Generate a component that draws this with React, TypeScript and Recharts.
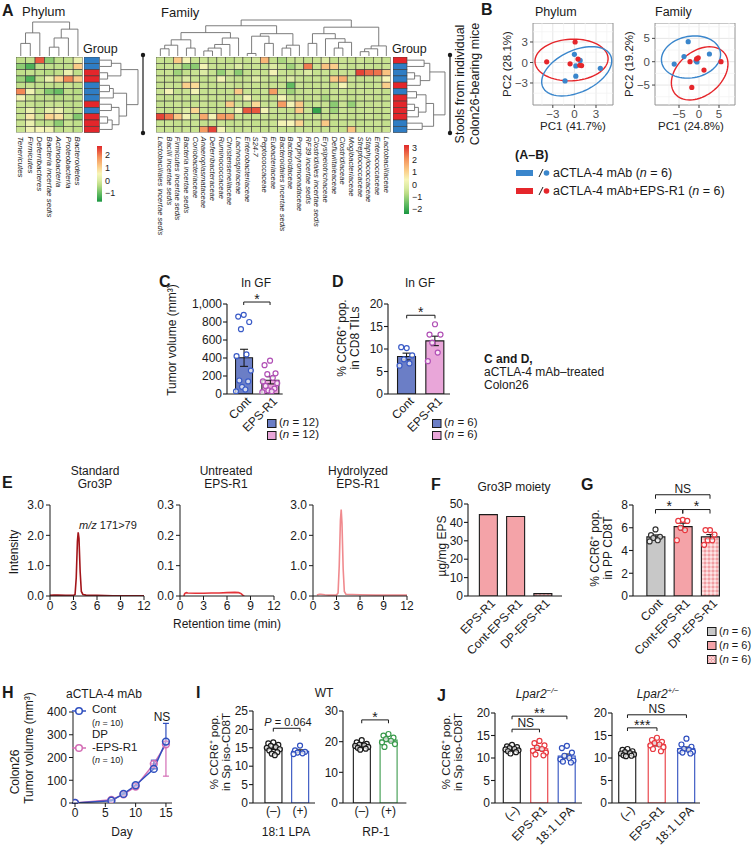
import React from "react"
import {
  ScatterChart,
  Scatter,
  XAxis,
  YAxis,
  CartesianGrid,
  ReferenceLine,
  ReferenceArea,
  ReferenceDot,
  ComposedChart,
  Bar,
  Cell,
  ErrorBar,
  LineChart,
  Line,
} from "recharts"

const FONT = '"Liberation Sans", Arial, Helvetica, sans-serif'
const INK = "#1a1a1a"
const BLUE = "#3a86cc"
const RED = "#e5262b"

// ---------- A: heatmaps ----------
const phylumNames = [
  "Tenericutes", "Firmicutes", "Deferribacteres", "Bacteria incertae sedis",
  "Actinobacteria", "Proteobacteria", "Bacteroidetes",
]
const phylumGroups = ["b", "b", "r", "r", "b", "b", "b", "r", "b", "r", "r", "r"]
const phylumValues = [
  [-0.3, -0.25, 2.3, -0.7, -0.3, -0.25, 0.3],
  [-0.7, -1.2, -0.3, -0.3, -0.3, -0.3, 1.1],
  [-0.3, -0.25, -0.3, -0.4, -0.3, 0.3, -0.3],
  [-0.6, -1.2, -0.3, 0.3, 1.0, 1.9, 1.1],
  [-0.3, -0.25, -0.3, -0.3, -0.3, -0.2, -0.3],
  [1.9, 0.4, -0.3, -0.8, -1.0, -0.3, -0.4],
  [0.4, -0.2, -0.3, -0.3, -0.4, -0.3, -0.3],
  [-0.2, -0.2, -0.3, -0.2, -0.2, -0.3, -0.3],
  [-0.2, 0.3, -0.3, 0.2, 0.3, -0.2, -0.3],
  [-0.2, 0.7, -0.2, 1.0, 0.8, -0.2, -0.8],
  [-0.2, 0.3, -0.3, -0.3, -0.7, -0.2, -0.3],
  [-0.2, 0.4, 0.5, 0.4, -0.3, -0.2, -0.3],
]
const phylumRange = [-1.66, 2.7]
const phylumColMerges = [[0, 1, 0.37], [7, 2, 0.68], [3, 4, 0.26], [9, 5, 0.53], [10, 6, 0.79], [8, 11, 1.0]]
const phylumRowMerges = [
  [0, 1, 0.3], [2, 3, 0.2], [12, 13, 0.55], [4, 5, 0.25], [15, 6, 0.35], [7, 8, 0.3],
  [9, 10, 0.2], [18, 11, 0.32], [17, 19, 0.5], [16, 20, 0.7], [14, 21, 1.0],
]

const familyNames = [
  "Lactobacillales incertae sedis", "Bacilli incertae sedis", "Firmicutes incertae sedis",
  "Bacteria incertae sedis", "Coriobacteriaceae", "Anaeroplasmataceae", "Deferribacteraceae",
  "Ruminococcaceae", "Christensenellaceae", "Lachnospiraceae", "Enterobacteriaceae", "S24-7",
  "Peptococcaceae", "Eubacteriaceae", "Bacteroidales incertae sedis", "Bacteroidaceae",
  "Porphyromonadaceae", "RF39 incertae sedis", "Clostridiales incertae sedis",
  "Erysipelotrichaceae", "Defluviitaleaceae", "Clostridiaceae", "Mogibacteriaceae",
  "Streptococcaceae", "Staphylococcaceae", "Enterococcaceae", "Lactobacillaceae",
]
const familyGroups = ["r", "b", "b", "b", "r", "b", "r", "r", "r", "r", "b", "b"]
const familyValues = [
  [-0.5, -0.6, 1.2, 0.3, -0.55, -0.45, -0.6, -0.5, -0.65, -0.5, -0.55, -0.4, 1.5, -0.6, -0.9, -0.55, -0.5, -0.6, -0.5, -0.2, -0.6, -0.5, -0.55, -0.45, -0.6, -0.5, -0.55],
  [-0.6, -0.5, -0.55, -1.1, -1.2, 0.3, -0.5, -0.6, -0.5, -0.2, -0.55, -0.5, -0.6, -0.2, -0.5, -1.0, -0.55, 2.3, -0.5, 1.3, 1.1, -0.45, -0.6, -0.5, -0.55, -0.6, -0.5],
  [-0.55, -0.5, -1.0, -0.6, -0.5, -0.2, -0.55, -1.1, -0.5, -1.2, -0.6, -0.5, -0.55, 0.3, -0.5, -0.6, -0.5, -0.2, -0.55, -0.5, -0.6, -0.5, -0.55, 2.9, 2.5, 2.4, 1.3],
  [-0.5, -0.55, -0.6, -0.2, -0.5, -0.6, -0.55, 0.3, -0.5, -0.6, -0.55, -0.2, -0.5, -0.6, -0.55, -0.2, -0.5, -0.6, -0.5, -0.55, 1.2, 1.6, -0.5, -0.6, -0.55, -0.5, 0.4],
  [-0.6, -0.5, -0.55, 1.1, 0.9, -0.5, -0.6, -0.55, -0.5, -0.6, -0.5, -0.55, -0.6, -0.5, -0.55, -1.6, -0.5, -0.6, -0.55, -0.5, -0.6, 0.3, -0.55, -0.5, -0.6, -0.5, 1.1],
  [-0.5, 0.3, -0.6, -0.5, 0.3, -0.55, -0.5, -0.6, -0.55, 1.2, -0.5, -0.6, -0.5, 1.9, -0.55, -1.0, -0.6, -0.5, -0.55, -0.6, -0.5, -0.55, -0.6, -0.5, -0.55, -0.5, -0.6],
  [-0.55, -0.6, -0.5, -0.55, -0.6, -0.5, -0.55, -0.5, -0.6, -0.55, 0.3, -0.5, -0.55, -0.6, 0.3, -0.5, -0.55, -0.6, -0.5, -0.9, -0.55, -0.5, -0.6, -0.55, -0.5, -0.6, -0.55],
  [-0.6, -0.55, -0.5, -0.6, -0.55, -0.5, -0.6, -0.55, 1.2, -0.5, -0.6, 0.9, -0.55, -0.5, 1.9, 0.3, 1.2, -0.6, -0.5, -0.55, -1.2, -0.5, -1.1, -0.55, -0.6, -0.5, -0.55],
  [-0.5, -0.6, -0.55, -0.2, 1.0, -0.5, -0.6, -0.55, -0.5, 0.3, 2.7, 2.7, 0.3, -0.5, -0.55, -0.6, 1.2, -0.5, -2.1, -0.55, -1.0, -0.5, -0.6, -0.55, -0.5, -0.6, -0.55],
  [2.9, 2.4, 1.2, 0.3, -0.5, 1.7, 0.3, 1.9, 1.8, -0.5, -0.6, -0.55, -0.5, -0.6, -0.55, -0.5, -0.6, -0.55, -0.5, -0.6, -0.55, -0.5, -0.6, -0.55, -0.5, -0.6, -0.55],
  [-0.55, -0.5, -0.6, -0.55, -0.5, -0.6, -0.55, -0.5, -0.6, -0.55, -0.5, -0.6, -0.55, -0.5, 0.3, 0.4, 1.0, -0.55, -0.5, 1.2, -0.6, -0.55, -0.5, -0.6, -0.55, -0.5, -0.6],
  [-0.5, -0.55, -0.6, -0.5, -0.55, 1.9, 2.9, 0.3, -0.55, -0.6, -0.5, -0.55, -0.6, -0.5, -0.55, -0.6, -0.5, -0.55, -0.6, -0.5, -0.55, -0.6, 1.3, -0.5, -0.55, -0.6, -0.5],
]
const familyRange = [-2.4, 3.2]
const familyColMerges = [
  [0, 1, 0.2], [27, 2, 0.3], [3, 4, 0.22], [28, 29, 0.45], [5, 6, 0.14], [31, 7, 0.22],
  [32, 8, 0.32], [33, 9, 0.5], [30, 34, 0.65], [10, 11, 0.07], [12, 13, 0.35], [36, 37, 0.55],
  [14, 15, 0.22], [39, 16, 0.3], [38, 40, 0.62], [35, 41, 0.84], [17, 18, 0.35], [20, 21, 0.22],
  [44, 22, 0.38], [19, 45, 0.48], [43, 46, 0.62], [23, 24, 0.12], [48, 25, 0.2], [49, 26, 0.28],
  [47, 50, 0.8], [42, 51, 1.0],
]
const familyRowMerges = [
  [0, 1, 0.45], [2, 3, 0.2], [13, 4, 0.35], [12, 14, 0.6], [5, 6, 0.25], [7, 8, 0.2],
  [17, 9, 0.3], [16, 18, 0.5], [10, 11, 0.4], [19, 20, 0.7], [15, 21, 1.0],
]

// ---------- B: PCA ----------
const pcaPhylumBlue = [[0.0, 1.2], [0.8, 0.3], [0.2, -0.5], [0.2, -2.0], [-1.3, -2.7], [3.6, -0.85]]
const pcaPhylumRed = [[0.1, 3.0], [-3.85, 0.1], [-0.6, -0.2], [0.5, 0.5], [0.75, -0.4], [1.0, -0.45]]
const pcaFamilyBlue = [[-2.7, 4.3], [-3.75, 1.1], [-6.2, -0.5], [-0.75, 0.2], [-0.5, -0.05], [2.6, 1.65]]
const pcaFamilyRed = [[-2.25, 0.0], [-0.6, 0.6], [-0.2, 0.85], [1.25, -1.8], [5.5, 0.0], [-1.8, -5.5]]
// ellipse: centre (data), half axes (px), tilt (deg)
const ellPhylumBlue = { cx: 0.32, cy: -1.29, a: 37.4, b: 20.9, deg: 25 }
const ellPhylumRed = { cx: -0.4, cy: 0.37, a: 36.6, b: 20.8, deg: 3 }
const ellFamilyBlue = { cx: -2.0, cy: 1.0, a: 29.8, b: 20.8, deg: 10 }
const ellFamilyRed = { cx: 0.17, cy: -2.5, a: 32, b: 22, deg: 40 }

// ---------- C, D ----------
const cdLabels = ["Cont", "EPS-R1"]
const cMeans = [402, 152]
const cSems = [95, 40]
const cPoints = [
  [880, 860, 800, 720, 440, 420, 260, 150, 140, 80, 50, 30],
  [370, 320, 230, 220, 180, 140, 120, 90, 60, 40, 30, 20],
]
const dMeans = [8.33, 11.8]
const dSems = [0.75, 1.05]
const dPoints = [
  [10.2, 10.4, 8.6, 7.7, 6.8, 6.3],
  [15.5, 13.2, 13.2, 11.4, 9.2, 7.3],
]

// ---------- E: chromatograms ----------
const stdT = [0, 0.5, 1, 2, 3, 3.2, 3.35, 3.5, 3.6, 3.7, 3.85, 4.0, 4.2, 4.6, 5, 6, 8, 10, 12]
const stdV = [0.02, 0.03, 0.03, 0.02, 0.02, 0.05, 0.6, 1.8, 2.1, 1.9, 0.8, 0.15, 0.05, 0.03, 0.02, 0.02, 0.01, 0.01, 0.01]
const untT = [0.5, 0.6, 0.8, 1, 2, 3, 4, 5, 6, 7, 7.5, 7.8, 8.0, 8.2]
const untV = [0.0, 0.008, 0.011, 0.01, 0.009, 0.009, 0.01, 0.01, 0.011, 0.012, 0.011, 0.008, 0.003, 0.0]
const hydT = [0.5, 0.8, 1, 1.5, 2, 3, 3.2, 3.35, 3.5, 3.6, 3.7, 3.85, 4.0, 4.2, 5, 6, 8, 10, 12]
const hydV = [0.03, 0.06, 0.06, 0.04, 0.03, 0.03, 0.1, 1.0, 2.5, 2.85, 2.4, 0.9, 0.15, 0.06, 0.05, 0.04, 0.03, 0.03, 0.03]

// ---------- F, G ----------
const fgLabels = ["EPS-R1", "Cont-EPS-R1", "DP-EPS-R1"]
const fValues = [44.2, 43.2, 1.3]
const gLabels = ["Cont", "Cont-EPS-R1", "DP-EPS-R1"]
const gMeans = [5.2, 6.1, 5.2]
const gSems = [0.17, 0.3, 0.2]
const gPoints = [
  [5.85, 5.35, 5.2, 5.1, 4.9, 4.8],
  [6.7, 6.6, 6.6, 6.0, 5.8, 4.9],
  [5.8, 5.8, 5.4, 4.9, 4.9, 4.5],
]

// ---------- H ----------
const hDays = [0, 6, 8, 10, 13, 15]
const hCont = [0, 10, 40, 78, 150, 270]
const hContSem = [0, 3, 5, 8, 38, 80]
const hDp = [0, 14, 38, 72, 172, 258]
const hDpSem = [0, 3, 5, 8, 20, 140]

// ---------- I, J ----------
const pmLabels = ["(\u2013)", "(+)"]
const iLpaMeans = [14.9, 14.05]
const iLpaSems = [0.35, 0.4]
const iLpaPoints = [
  [16.5, 16.2, 15.8, 15.5, 15.2, 15.0, 14.6, 14.3, 13.8, 13.4, 13.0],
  [15.6, 14.3, 13.9, 13.7, 13.5, 13.3],
]
const iRpMeans = [18.74, 20.5]
const iRpSems = [0.3, 0.45]
const iRpPoints = [
  [20.5, 19.8, 19.3, 19.0, 18.8, 18.6, 18.3, 18.0, 17.7, 17.4],
  [22.5, 22.0, 21.3, 20.8, 20.3, 19.8, 19.2, 18.3],
]
const jLabels = ["(\u2013)", "EPS-R1", "18:1 LPA"]
const jKoMeans = [11.85, 12.04, 10.43]
const jKoSems = [0.2, 0.35, 0.45]
const jKoPoints = [
  [12.9, 12.6, 12.4, 12.2, 12.0, 11.9, 11.7, 11.5, 11.3, 11.0],
  [13.8, 13.3, 12.8, 12.3, 12.0, 11.6, 11.2, 10.8, 10.6],
  [12.7, 12.2, 11.2, 10.5, 10.0, 9.7, 9.4, 9.2, 9.0],
]
const jHetMeans = [11.1, 13.01, 12.09]
const jHetSems = [0.18, 0.33, 0.35]
const jHetPoints = [
  [12.0, 11.8, 11.5, 11.3, 11.1, 11.0, 10.8, 10.6, 10.5, 10.4],
  [14.5, 14.0, 13.6, 13.3, 13.0, 12.8, 12.4, 12.0, 11.5],
  [14.3, 13.0, 12.5, 12.0, 11.8, 11.6, 11.4, 11.2, 11.0],
]

// ---------- helpers ----------
const heatStops: [number, string][] = [
  [0, "#1a9641"], [0.15, "#66bd63"], [0.3, "#bcdd86"], [0.38, "#d9eaa0"],
  [0.5, "#f7f5b8"], [0.62, "#fbd08c"], [0.8, "#f4915a"], [1, "#e0282a"],
]
function hex(c: string) {
  return [1, 3, 5].map((i) => parseInt(c.slice(i, i + 2), 16))
}
function heatColor(v: number, lo: number, hi: number) {
  const t = Math.max(0, Math.min(1, (v - lo) / (hi - lo)))
  let k = 0
  while (k < heatStops.length - 2 && t > heatStops[k + 1][0]) k++
  const [t0, c0] = heatStops[k]
  const [t1, c1] = heatStops[k + 1]
  const f = (t - t0) / (t1 - t0)
  const a = hex(c0), b = hex(c1)
  return `rgb(${a.map((x, i) => Math.round(x + (b[i] - x) * f)).join(",")})`
}
const minus = (v: number) => (v < 0 ? "\u2212" + Math.abs(v) : String(v))

function T({ x, y, s = 12, b = false, i = false, a = "start", r = 0, c = INK, children }: any) {
  const tx = a === "start" ? "0%" : a === "end" ? "-100%" : "-50%"
  return (
    <div
      style={{
        position: "absolute", left: x, top: y,
        transform: `translate(${tx}, -50%) rotate(${r}deg)`,
        fontFamily: FONT, fontSize: s, fontWeight: b ? 700 : 400,
        fontStyle: i ? "italic" : "normal", color: c, whiteSpace: "nowrap", lineHeight: 1,
      }}
    >
      {children}
    </div>
  )
}

const N = ({ n }: any) => (
  <span>
    (<i>n</i> = {n})
  </span>
)

function Sq({ x, y, fill, pattern = false }: any) {
  return (
    <svg style={{ position: "absolute", left: x, top: y - 4.5 }} width={10} height={9}>
      <defs>
        <pattern id={"lg" + x + y} width="3" height="3" patternUnits="userSpaceOnUse">
          <rect width="3" height="3" fill="#fde4e4" />
          <circle cx="1.5" cy="1.5" r="0.9" fill="none" stroke="#e0505a" strokeWidth="0.5" />
        </pattern>
      </defs>
      <rect x={0.5} y={0.5} width={8.5} height={8} fill={pattern ? `url(#lg${x}${y})` : fill} stroke={INK} strokeWidth={1} />
    </svg>
  )
}

function Arrow({ x, y1, y2 }: any) {
  return (
    <svg style={{ position: "absolute", left: x - 3, top: y1 - 3 }} width={6} height={y2 - y1 + 6}>
      <line x1={3} x2={3} y1={3} y2={y2 - y1 + 3} stroke={INK} strokeWidth={1.2} />
      <circle cx={3} cy={3} r={2.2} fill={INK} />
      <circle cx={3} cy={y2 - y1 + 3} r={2.2} fill={INK} />
    </svg>
  )
}

// heatmap drawn as scatter of square cells
function Heatmap({ matrix, range, labels, l, t, w, h, labelH, fs }: any) {
  const nrow = matrix.length
  const ncol = matrix[0].length
  const cw = w / ncol
  const ch = h / nrow
  const data = matrix.flatMap((row: number[], r: number) => row.map((v, c) => ({ x: c + 0.5, y: r + 0.5, v })))
  return (
    <div style={{ position: "absolute", left: l, top: t }}>
      <ScatterChart width={w + 1} height={h + labelH} margin={{ top: 0, right: 1, left: 0, bottom: 0 }}>
        <XAxis
          type="number" dataKey="x" domain={[0, ncol]} allowDataOverflow
          ticks={labels.map((_: string, i: number) => i + 0.5)} interval={0}
          height={labelH} tickLine={false} axisLine={false} tickSize={0} tickMargin={0}
          tick={(p: any) => (
            <text
              key={p.index} x={0} y={0} transform={`translate(${p.x},${p.y + 4}) rotate(90)`}
              fontSize={fs} fontStyle="italic" fill={INK} fontFamily={FONT} dominantBaseline="central"
            >
              {labels[Math.floor(p.payload.value)]}
            </text>
          )}
        />
        <YAxis type="number" dataKey="y" domain={[0, nrow]} reversed hide allowDataOverflow />
        <Scatter
          data={data} isAnimationActive={false}
          shape={(p: any) => (
            <rect
              x={p.cx - cw / 2} y={p.cy - ch / 2} width={cw} height={ch}
              fill={heatColor(p.payload.v, range[0], range[1])} stroke="#3a3a3a" strokeWidth={0.6}
            />
          )}
        />
      </ScatterChart>
    </div>
  )
}

function GroupCol({ groups, l, t, w, h }: any) {
  const ch = h / groups.length
  const data = groups.map((g: string, r: number) => ({ x: 0.5, y: r + 0.5, g }))
  return (
    <div style={{ position: "absolute", left: l, top: t }}>
      <ScatterChart width={w + 1} height={h + 1} margin={{ top: 0, right: 1, left: 0, bottom: 1 }}>
        <XAxis type="number" dataKey="x" domain={[0, 1]} hide />
        <YAxis type="number" dataKey="y" domain={[0, groups.length]} reversed hide />
        <Scatter
          data={data} isAnimationActive={false}
          shape={(p: any) => (
            <rect
              x={p.cx - w / 2} y={p.cy - ch / 2} width={w} height={ch}
              fill={p.payload.g === "b" ? "#2f7dc4" : "#e3262b"} stroke="#3a3a3a" strokeWidth={0.6}
            />
          )}
        />
      </ScatterChart>
    </div>
  )
}

function dendroSegments(n: number, merges: number[][]) {
  const pos = Array.from({ length: n }, (_, i) => i + 0.5)
  const hgt: number[] = Array(n).fill(0)
  const segs: { p: number; h: number }[][] = []
  merges.forEach(([a, b, h]) => {
    segs.push([{ p: pos[a], h: hgt[a] }, { p: pos[a], h }, { p: pos[b], h }, { p: pos[b], h: hgt[b] }])
    pos.push((pos[a] + pos[b]) / 2)
    hgt.push(h)
  })
  return segs
}

function Dendro({ n, merges, l, t, w, h, rows = false }: any) {
  const segs = dendroSegments(n, merges)
  return (
    <div style={{ position: "absolute", left: l, top: t }}>
      <ScatterChart width={w + 2} height={h + 2} margin={{ top: 1, right: 1, left: 1, bottom: 1 }}>
        {rows ? (
          <XAxis type="number" dataKey="x" domain={[0, 1]} hide />
        ) : (
          <XAxis type="number" dataKey="x" domain={[0, n]} hide />
        )}
        {rows ? (
          <YAxis type="number" dataKey="y" domain={[0, n]} reversed hide />
        ) : (
          <YAxis type="number" dataKey="y" domain={[0, 1]} hide />
        )}
        {segs.map((s, k) => (
          <Scatter
            key={k} isAnimationActive={false}
            data={s.map((q) => (rows ? { x: q.h, y: q.p } : { x: q.p, y: q.h }))}
            line={{ stroke: "#6e6e6e", strokeWidth: 0.9 }}
            shape={() => <g />}
          />
        ))}
      </ScatterChart>
    </div>
  )
}

function ColorBar({ id, range, ticks, l, t, w, h }: any) {
  const pad = 6
  return (
    <div style={{ position: "absolute", left: l, top: t - pad }}>
      <ScatterChart width={w + 18} height={h + 2 * pad} margin={{ top: pad, right: 0, left: 0, bottom: pad }}>
        <defs>
          <linearGradient id={id} x1="0" y1="1" x2="0" y2="0">
            {heatStops.map(([o, c]) => (
              <stop key={o} offset={o} stopColor={c} />
            ))}
          </linearGradient>
        </defs>
        <XAxis type="number" dataKey="x" domain={[0, 1]} hide />
        <YAxis
          type="number" dataKey="y" orientation="right" domain={range} ticks={ticks} interval={0}
          width={18} axisLine={false} tickLine={false} tickMargin={2} tickSize={1}
          tick={{ fontSize: 9, fill: "#222", fontFamily: FONT }} tickFormatter={minus}
        />
        <ReferenceArea x1={0} x2={1} y1={range[0]} y2={range[1]} fill={`url(#${id})`} fillOpacity={1} stroke="none" />
        <Scatter data={[{ x: 0.5, y: range[0] }]} isAnimationActive={false} shape={() => <g />} />
      </ScatterChart>
    </div>
  )
}

function ellipsePts(e: any, sx: number, sy: number) {
  const th = (e.deg * Math.PI) / 180
  return Array.from({ length: 73 }, (_, i) => {
    const u = (i / 72) * 2 * Math.PI
    const X = e.a * Math.cos(u) * Math.cos(th) - e.b * Math.sin(u) * Math.sin(th)
    const Y = e.a * Math.cos(u) * Math.sin(th) + e.b * Math.sin(u) * Math.cos(th)
    return { x: e.cx + X / sx, y: e.cy + Y / sy }
  })
}

function Pca({ l, t, w, h, xDom, yDom, ticks, minor, blue, red, ellB, ellR }: any) {
  const yW = 22
  const xH = 18
  const sx = w / (xDom[1] - xDom[0])
  const sy = h / (yDom[1] - yDom[0])
  const toPts = (arr: number[][]) => arr.map(([x, y]) => ({ x, y }))
  return (
    <div style={{ position: "absolute", left: l - yW, top: t }}>
      <ScatterChart width={yW + w + 2} height={h + xH} margin={{ top: 0, right: 2, left: 0, bottom: 0 }}>
        {minor.map((v: number) => (
          <ReferenceLine key={"mx" + v} x={v} stroke="#f2f2f2" strokeWidth={0.7} />
        ))}
        {minor.map((v: number) => (
          <ReferenceLine key={"my" + v} y={v} stroke="#f2f2f2" strokeWidth={0.7} />
        ))}
        <CartesianGrid stroke="#e6e6e6" strokeWidth={1} />
        <XAxis
          type="number" dataKey="x" domain={xDom} ticks={ticks} allowDataOverflow interval={0} height={xH}
          axisLine={false} tickSize={3} tickLine={{ stroke: "#444" }}
          tick={{ fontSize: 11.5, fill: "#4d4d4d", fontFamily: FONT }} tickFormatter={minus}
        />
        <YAxis
          type="number" dataKey="y" domain={yDom} ticks={ticks} allowDataOverflow interval={0} width={yW}
          axisLine={false} tickSize={3} tickLine={{ stroke: "#444" }}
          tick={{ fontSize: 11.5, fill: "#4d4d4d", fontFamily: FONT }} tickFormatter={minus}
        />
        <ReferenceArea x1={xDom[0]} x2={xDom[1]} y1={yDom[0]} y2={yDom[1]} fill="none" stroke="#8a8a8a" strokeWidth={0.8} ifOverflow="visible" />
        <Scatter data={ellipsePts(ellR, sx, sy)} line={{ stroke: RED, strokeWidth: 1.4 }} shape={() => <g />} isAnimationActive={false} />
        <Scatter data={ellipsePts(ellB, sx, sy)} line={{ stroke: BLUE, strokeWidth: 1.4 }} shape={() => <g />} isAnimationActive={false} />
        <Scatter data={toPts(blue)} isAnimationActive={false} shape={(p: any) => <circle cx={p.cx} cy={p.cy} r={2.6} fill={BLUE} />} />
        <Scatter data={toPts(red)} isAnimationActive={false} shape={(p: any) => <circle cx={p.cx} cy={p.cy} r={2.6} fill={RED} />} />
      </ScatterChart>
    </div>
  )
}

const JIT = [0, -5, 5, -2.5, 2.5, -6.5, 6.5, -4, 4, -1.5, 1.5, -7, 7]

function bracket(key: string, br: any) {
  const line = { stroke: INK, strokeWidth: 1, ifOverflow: "visible" as const }
  const els = [
    <ReferenceLine key={key + "h"} segment={[{ x: br.a, y: br.y }, { x: br.b, y: br.y }]} {...line} />,
    <ReferenceLine key={key + "l"} segment={[{ x: br.a, y: br.y }, { x: br.a, y: br.y - br.d }]} {...line} />,
    <ReferenceLine key={key + "r"} segment={[{ x: br.b, y: br.y }, { x: br.b, y: br.y - br.d }]} {...line} />,
  ]
  if (br.text) {
    const star = br.text.includes("*")
    els.push(
      <ReferenceDot
        key={key + "t"} x={(br.a + br.b) / 2} y={br.y} r={0.1} fill="none" stroke="none" ifOverflow="visible"
        label={{ value: br.text, position: "top", offset: star ? -2 : 2, fontSize: star ? 14 : 12, fill: INK, fontFamily: FONT }}
      />,
    )
  }
  return els
}

function DotBars(props: any) {
  const {
    id, l, t, w, h, mt, xH, yW, labels, means, sems, points, fills, strokes, dotColors,
    xDom, yMax, yTicks, barSize, rotate = true, brackets = [], fmt, jit = 1,
  } = props
  const data = labels.map((_: string, i: number) => ({ x: i + 1, mean: means[i], sem: sems ? sems[i] : 0 }))
  return (
    <div style={{ position: "absolute", left: l - yW, top: t - mt }}>
      <ComposedChart width={yW + w + 4} height={mt + h + xH} data={data} margin={{ top: mt, right: 4, left: 0, bottom: 0 }}>
        <defs>
          <pattern id={id} width="4" height="4" patternUnits="userSpaceOnUse">
            <rect width="4" height="4" fill="#fde4e4" />
            <circle cx="2" cy="2" r="1.1" fill="none" stroke="#e0505a" strokeWidth="0.6" />
          </pattern>
        </defs>
        <XAxis
          type="number" dataKey="x" domain={xDom} allowDataOverflow interval={0}
          ticks={labels.map((_: string, i: number) => i + 1)} height={xH}
          tickLine={false} axisLine={{ stroke: INK, strokeWidth: 1.1 }} tickSize={0} tickMargin={0}
          tick={(p: any) =>
            rotate ? (
              <g key={p.index} transform={`translate(${p.x + 5},${p.y + 5})`}>
                <text textAnchor="end" transform="rotate(-45)" fontSize={12} fill={INK} fontFamily={FONT} dy="0.35em">
                  {labels[Math.round(p.payload.value) - 1]}
                </text>
              </g>
            ) : (
              <text key={p.index} x={p.x} y={p.y + 12} textAnchor="middle" fontSize={12} fill={INK} fontFamily={FONT}>
                {labels[Math.round(p.payload.value) - 1]}
              </text>
            )
          }
        />
        <YAxis
          type="number" domain={[0, yMax]} ticks={yTicks} allowDataOverflow interval={0} width={yW}
          tickSize={4} tickMargin={1} tickLine={{ stroke: INK, strokeWidth: 1.1 }} axisLine={{ stroke: INK, strokeWidth: 1.1 }}
          tick={{ fontSize: 12, fill: INK, fontFamily: FONT }} tickFormatter={fmt}
        />
        <Bar dataKey="mean" barSize={barSize} isAnimationActive={false} strokeWidth={1.1}>
          {labels.map((_: string, i: number) => (
            <Cell key={i} fill={fills[i]} stroke={strokes[i]} />
          ))}
          {sems && <ErrorBar dataKey="sem" width={4} stroke={INK} strokeWidth={1.1} direction="y" />}
        </Bar>
        {points &&
          points.map((vals: number[], i: number) => (
            <Scatter
              key={"p" + i} dataKey="v" isAnimationActive={false}
              data={vals.map((v, k) => ({ x: i + 1, v, k }))}
              shape={(p: any) => (
                <circle
                  cx={p.cx + JIT[p.payload.k % JIT.length] * jit} cy={p.cy} r={2.5}
                  fill="#fff" fillOpacity={0.7} stroke={dotColors[i]} strokeWidth={1.2}
                />
              )}
            />
          ))}
        {brackets.flatMap((br: any, k: number) => bracket(id + k, br))}
      </ComposedChart>
    </div>
  )
}

function Chrom({ l, tArr, vArr, yMax, yTicks, color }: any) {
  const top = 505, w = 94, h = 91, yW = 32, xH = 22, mt = 6
  const data = tArr.map((t: number, i: number) => ({ t, v: vArr[i] }))
  return (
    <div style={{ position: "absolute", left: l - yW, top: top - mt }}>
      <LineChart width={yW + w + 10} height={mt + h + xH} data={data} margin={{ top: mt, right: 10, left: 0, bottom: 0 }}>
        <XAxis
          type="number" dataKey="t" domain={[0, 12]} ticks={[0, 3, 6, 9, 12]} interval={0} height={xH}
          tickSize={4} tickMargin={1} tickLine={{ stroke: INK }} axisLine={{ stroke: INK }}
          tick={{ fontSize: 12, fill: INK, fontFamily: FONT }}
        />
        <YAxis
          type="number" domain={[0, yMax]} ticks={yTicks} interval={0} width={yW} allowDataOverflow
          tickSize={4} tickMargin={2} tickLine={{ stroke: INK }} axisLine={{ stroke: INK }}
          tick={{ fontSize: 12, fill: INK, fontFamily: FONT }} tickFormatter={(v: number) => v.toFixed(1)}
        />
        <Line dataKey="v" type="linear" stroke={color} strokeWidth={1.6} dot={false} isAnimationActive={false} />
      </LineChart>
    </div>
  )
}

function Growth() {
  const l = 73, t = 712, w = 99, h = 91, yW = 32, xH = 22, mt = 6
  const data = hDays.map((d, i) => ({
    day: d, cont: hCont[i], dp: hDp[i], ec: [0, hContSem[i]], ed: [hDpSem[i], 0],
  }))
  const dot = (c: string) => (p: any) => (
    <circle key={p.index} cx={p.cx} cy={p.cy} r={3.4} fill="#fff" fillOpacity={0.3} stroke={c} strokeWidth={1.5} />
  )
  return (
    <div style={{ position: "absolute", left: l - yW, top: t - mt }}>
      <LineChart width={yW + w + 4} height={mt + h + xH} data={data} margin={{ top: mt, right: 4, left: 0, bottom: 0 }}>
        <XAxis
          type="number" dataKey="day" domain={[-0.33, 16]} ticks={[0, 5, 10, 15]} interval={0} height={xH}
          allowDataOverflow tickSize={4} tickMargin={1} tickLine={{ stroke: INK }} axisLine={{ stroke: INK }}
          tick={{ fontSize: 12, fill: INK, fontFamily: FONT }}
        />
        <YAxis
          type="number" domain={[0, 400]} ticks={[0, 100, 200, 300, 400]} interval={0} width={yW} allowDataOverflow
          tickSize={4} tickMargin={2} tickLine={{ stroke: INK }} axisLine={{ stroke: INK }}
          tick={{ fontSize: 12, fill: INK, fontFamily: FONT }}
        />
        <Line dataKey="dp" stroke="#d36db5" strokeWidth={1.5} dot={dot("#d36db5")} isAnimationActive={false}>
          <ErrorBar dataKey="ed" width={3} stroke="#d36db5" strokeWidth={1.2} direction="y" />
        </Line>
        <Line dataKey="cont" stroke="#2f4fbf" strokeWidth={1.5} dot={dot("#2f4fbf")} isAnimationActive={false}>
          <ErrorBar dataKey="ec" width={3} stroke="#2f4fbf" strokeWidth={1.2} direction="y" />
        </Line>
      </LineChart>
    </div>
  )
}

function LegendLine({ x, y, c }: any) {
  return (
    <svg style={{ position: "absolute", left: x, top: y - 5 }} width={16} height={10}>
      <line x1={1} x2={15} y1={5} y2={5} stroke={c} strokeWidth={1.5} />
      <circle cx={8} cy={5} r={3.3} fill="#fff" stroke={c} strokeWidth={1.5} />
    </svg>
  )
}

function LegendPca({ y, c, children }: any) {
  return (
    <>
      <svg style={{ position: "absolute", left: 515, top: y - 5 }} width={36} height={10}>
        <rect x={1} y={2} width={17} height={6} fill={c} />
        <line x1={24} y1={9} x2={28} y2={1} stroke={INK} strokeWidth={1} />
        <circle cx={31.5} cy={5} r={2.8} fill={c} />
      </svg>
      <T x={553} y={y} s={12.5}>
        {children}
      </T>
    </>
  )
}

const lab2 = (a: string, b: string, x1: number, x2: number, y: number, s = 12) => (
  <>
    <T x={x1} y={y} a="middle" r={-90} s={s}>{a}</T>
    <T x={x2} y={y} a="middle" r={-90} s={s}>{b}</T>
  </>
)

export default function App() {
  const pink = "#f4a3a8"
  return (
    <div style={{ position: "absolute", left: 0, top: 0, width: 753, height: 857, background: "#fff", overflow: "hidden", fontFamily: FONT }}>
      {/* ---- A ---- */}
      <T x={2} y={11} s={16} b>A</T>
      <T x={22} y={11} s={13}>Phylum</T>
      <T x={161} y={12} s={13}>Family</T>
      <T x={83} y={49} s={12.5}>Group</T>
      <T x={392} y={49} s={12.5}>Group</T>
      <Dendro n={7} merges={phylumColMerges} l={15} t={21} w={66.7} h={34} />
      <Heatmap matrix={phylumValues} range={phylumRange} labels={phylumNames} l={16} t={56.7} w={66.7} h={75.6} labelH={95} fs={8} />
      <GroupCol groups={phylumGroups} l={84} t={56.7} w={15.3} h={75.6} />
      <Dendro n={12} merges={phylumRowMerges} l={99} t={55.7} w={38} h={75.6} rows />
      <Arrow x={143} y1={55} y2={133} />
      <ColorBar id="cbP" range={phylumRange} ticks={[-1, 0, 1, 2]} l={97} t={146} w={5} h={55.7} />

      <Dendro n={27} merges={familyColMerges} l={155} t={19} w={234.7} h={36} />
      <Heatmap matrix={familyValues} range={familyRange} labels={familyNames} l={156} t={56.7} w={234.7} h={75.6} labelH={115} fs={7.6} />
      <GroupCol groups={familyGroups} l={392.7} t={56.7} w={14} h={75.6} />
      <Dendro n={12} merges={familyRowMerges} l={406} t={55.7} w={38} h={75.6} rows />
      <Arrow x={450} y1={55} y2={133} />
      <ColorBar id="cbF" range={familyRange} ticks={[-2, -1, 0, 1, 2, 3]} l={404} t={145} w={5} h={69} />
      <T x={460} y={84} a="middle" r={-90} s={12.5}>Stools from individual</T>
      <T x={475} y={84} a="middle" r={-90} s={12.5}>Colon26-bearing mice</T>

      {/* ---- B ---- */}
      <T x={481} y={10} s={16} b>B</T>
      <T x={535} y={12} s={12.5}>Phylum</T>
      <T x={655} y={12} s={12.5}>Family</T>
      <Pca
        l={533} t={23} w={80} h={82} xDom={[-5.75, 5.36]} yDom={[-6.22, 5.78]} ticks={[-3, 0, 3]}
        minor={[-4.5, -1.5, 1.5, 4.5]} blue={pcaPhylumBlue} red={pcaPhylumRed} ellB={ellPhylumBlue} ellR={ellPhylumRed}
      />
      <Pca
        l={655} t={23} w={80} h={82} xDom={[-11, 9]} yDom={[-9.27, 8.29]} ticks={[-5, 0, 5]}
        minor={[-7.5, -2.5, 2.5, 7.5]} blue={pcaFamilyBlue} red={pcaFamilyRed} ellB={ellFamilyBlue} ellR={ellFamilyRed}
      />
      <T x={508} y={64} a="middle" r={-90} s={11.5} c="#222">PC2 (28.1%)</T>
      <T x={573} y={127} a="middle" s={11.5} c="#222">PC1 (41.7%)</T>
      <T x={630} y={64} a="middle" r={-90} s={11.5} c="#222">PC2 (19.2%)</T>
      <T x={691} y={127} a="middle" s={11.5} c="#222">PC1 (24.8%)</T>
      <T x={515} y={155} s={12.5} b>(A–B)</T>
      <LegendPca y={173} c={BLUE}>aCTLA-4 mAb <N n={6} /></LegendPca>
      <LegendPca y={191} c={RED}>aCTLA-4 mAb+EPS-R1 <N n={6} /></LegendPca>

      {/* ---- C ---- */}
      <T x={159} y={282} s={16} b>C</T>
      <T x={256} y={283} a="middle">In GF</T>
      <T x={172} y={340} a="middle" r={-90}>Tumor volume (mm³)</T>
      <DotBars
        id="pc" l={227.3} t={304} w={55.7} h={90} mt={16} xH={50} yW={40}
        labels={cdLabels} means={cMeans} sems={cSems} points={cPoints}
        fills={["#6b7ec6", "#e9a6d9"]} strokes={[INK, INK]} dotColors={["#3a5bc7", "#b04fb5"]}
        xDom={[0.365, 2.48]} yMax={1000} yTicks={[0, 200, 400, 600, 800, 1000]} barSize={17} jit={1.1}
        fmt={(v: number) => v.toLocaleString("en-US")}
        brackets={[{ a: 1, b: 2, y: 1022, d: 33, text: "*" }]}
      />
      <Sq x={267} y={423} fill="#6b7ec6" />
      <T x={279} y={423} s={11.5}><N n={12} /></T>
      <Sq x={267} y={435} fill="#e9a6d9" />
      <T x={279} y={435} s={11.5}><N n={12} /></T>

      {/* ---- D ---- */}
      <T x={332} y={282} s={16} b>D</T>
      <T x={420} y={283} a="middle">In GF</T>
      {lab2("% CCR6⁺ pop.", "in CD8 TILs", 342, 355, 338)}
      <DotBars
        id="pd" l={388} t={304} w={62} h={90} mt={16} xH={50} yW={30}
        labels={cdLabels} means={dMeans} sems={dSems} points={dPoints}
        fills={["#6b7ec6", "#e9a6d9"]} strokes={[INK, INK]} dotColors={["#3a5bc7", "#b04fb5"]}
        xDom={[0.34, 2.53]} yMax={20} yTicks={[0, 5, 10, 15, 20]} barSize={18} jit={1.1}
        brackets={[{ a: 1, b: 2, y: 17.5, d: 0.7, text: "*" }]}
      />
      <Sq x={432} y={423} fill="#6b7ec6" />
      <T x={444} y={423} s={11.5}><N n={6} /></T>
      <Sq x={432} y={435} fill="#e9a6d9" />
      <T x={444} y={435} s={11.5}><N n={6} /></T>
      <T x={484} y={359} s={12} b>C and D,</T>
      <T x={484} y={372} s={12}>aCTLA-4 mAb–treated</T>
      <T x={484} y={385} s={12}>Colon26</T>

      {/* ---- E ---- */}
      <T x={2} y={483} s={16} b>E</T>
      <T x={95} y={471} a="middle">Standard</T>
      <T x={95} y={484} a="middle">Gro3P</T>
      <T x={226} y={471} a="middle">Untreated</T>
      <T x={226} y={484} a="middle">EPS-R1</T>
      <T x={358} y={471} a="middle">Hydrolyzed</T>
      <T x={358} y={484} a="middle">EPS-R1</T>
      <T x={14} y={552} a="middle" r={-90}>Intensity</T>
      <T x={227} y={624} a="middle">Retention time (min)</T>
      <Chrom l={50} tArr={stdT} vArr={stdV} yMax={3} yTicks={[0, 1, 2, 3]} color="#a3151a" />
      <Chrom l={180} tArr={untT} vArr={untV} yMax={0.3} yTicks={[0, 0.1, 0.2, 0.3]} color="#e5343a" />
      <Chrom l={313} tArr={hydT} vArr={hydV} yMax={3} yTicks={[0, 1, 2, 3]} color="#f08a8e" />
      <T x={79} y={525} s={11}><i>m/z</i> 171&gt;79</T>

      {/* ---- F ---- */}
      <T x={431} y={485} s={16} b>F</T>
      <T x={514} y={487} a="middle">Gro3P moiety</T>
      <T x={442} y={546} a="middle" r={-90}>µg/mg EPS</T>
      <DotBars
        id="pf" l={468} t={504} w={94} h={92} mt={8} xH={85} yW={30}
        labels={fgLabels} means={fValues} fills={[pink, pink, "url(#pf)"]} strokes={[INK, INK, INK]}
        xDom={[0.266, 3.716]} yMax={50} yTicks={[0, 10, 20, 30, 40, 50]} barSize={18}
      />

      {/* ---- G ---- */}
      <T x={581} y={485} s={16} b>G</T>
      {lab2("% CCR6⁺ pop.", "in PP CD8T", 595, 608, 548)}
      <DotBars
        id="pg" l={633} t={505} w={87} h={91} mt={24} xH={85} yW={22}
        labels={gLabels} means={gMeans} sems={gSems} points={gPoints}
        fills={["#c8c8c8", pink, "url(#pg)"]} strokes={[INK, INK, INK]} dotColors={["#333", "#e8383f", "#e8383f"]}
        xDom={[0.174, 3.367]} yMax={8} yTicks={[0, 2, 4, 6, 8]} barSize={18} jit={0.9}
        brackets={[
          { a: 1, b: 3, y: 8.9, d: 0.35, text: "NS" },
          { a: 1, b: 2, y: 7.6, d: 0.35, text: "*" },
          { a: 2, b: 3, y: 7.6, d: 0.35, text: "*" },
        ]}
      />
      <Sq x={707} y={631} fill="#c8c8c8" />
      <T x={719} y={631} s={11}><N n={6} /></T>
      <Sq x={707} y={645} fill={pink} />
      <T x={719} y={645} s={11}><N n={6} /></T>
      <Sq x={707} y={659} pattern />
      <T x={719} y={659} s={11}><N n={6} /></T>

      {/* ---- H ---- */}
      <T x={2} y={693} s={16} b>H</T>
      <T x={104} y={694} a="middle">aCTLA-4 mAb</T>
      <T x={15} y={772} a="middle" r={-90}>Colon26</T>
      <T x={29} y={748} a="middle" r={-90}>Tumor volume (mm³)</T>
      <Growth />
      <LegendLine x={71} y={711} c="#2f4fbf" />
      <T x={92} y={710} s={11.5}>Cont</T>
      <T x={92} y={723} s={9}><N n={10} /></T>
      <T x={92} y={735} s={11.5}>DP</T>
      <LegendLine x={71} y={748} c="#d36db5" />
      <T x={92} y={748} s={11.5}>-EPS-R1</T>
      <T x={92} y={760} s={9}><N n={10} /></T>
      <T x={162} y={717} a="middle">NS</T>
      <T x={122} y={832} a="middle">Day</T>

      {/* ---- I ---- */}
      <T x={196} y={693} s={16} b>I</T>
      <T x={324} y={693} a="middle">WT</T>
      {lab2("% CCR6⁺ pop.", "in Sp iso-CD8T", 215, 227, 752, 11.5)}
      <DotBars
        id="pi1" l={253} t={711} w={62} h={92} mt={10} xH={20} yW={26}
        labels={pmLabels} means={iLpaMeans} sems={iLpaSems} points={iLpaPoints}
        fills={["#fff", "#fff"]} strokes={[INK, "#2f4fbf"]} dotColors={[INK, "#2f4fbf"]}
        xDom={[0.24, 2.56]} yMax={25} yTicks={[0, 5, 10, 15, 20, 25]} barSize={17} rotate={false}
        brackets={[{ a: 1, b: 2, y: 20.3, d: 0.9 }]}
      />
      <T x={288} y={722} a="middle" s={11}><i>P</i> = 0.064</T>
      <T x={286} y={832} a="middle">18:1 LPA</T>
      <DotBars
        id="pi2" l={343.3} t={711} w={63.4} h={92} mt={10} xH={20} yW={26}
        labels={pmLabels} means={iRpMeans} sems={iRpSems} points={iRpPoints}
        fills={["#fff", "#fff"]} strokes={[INK, "#3a9a4c"]} dotColors={[INK, "#3a9a4c"]}
        xDom={[0.3, 2.67]} yMax={30} yTicks={[0, 10, 20, 30]} barSize={17} rotate={false}
        brackets={[{ a: 1, b: 2, y: 27.1, d: 1.1, text: "*" }]}
      />
      <T x={376} y={832} a="middle">RP-1</T>

      {/* ---- J ---- */}
      <T x={437} y={696} s={16} b>J</T>
      {lab2("% CCR6⁺ pop.", "in Sp iso-CD8T", 447, 459, 752, 11.5)}
      <T x={537} y={693} a="middle" i>
        Lpar2<span style={{ fontSize: 8, verticalAlign: "super" }}>−/−</span>
      </T>
      <T x={658} y={693} a="middle" i>
        Lpar2<span style={{ fontSize: 8, verticalAlign: "super" }}>+/−</span>
      </T>
      <DotBars
        id="pj1" l={495} t={713} w={87} h={90} mt={14} xH={50} yW={26}
        labels={jLabels} means={jKoMeans} sems={jKoSems} points={jKoPoints}
        fills={["#fff", "#fff", "#fff"]} strokes={[INK, "#e8383f", "#2f4fbf"]} dotColors={[INK, "#e8383f", "#2f4fbf"]}
        xDom={[0.38, 3.55]} yMax={20} yTicks={[0, 5, 10, 15, 20]} barSize={17}
        brackets={[
          { a: 1, b: 3, y: 19.3, d: 0.7, text: "**" },
          { a: 1, b: 2, y: 16.4, d: 0.7, text: "NS" },
        ]}
      />
      <DotBars
        id="pj2" l={612} t={713} w={88} h={90} mt={14} xH={50} yW={26}
        labels={jLabels} means={jHetMeans} sems={jHetSems} points={jHetPoints}
        fills={["#fff", "#fff", "#fff"]} strokes={[INK, "#e8383f", "#2f4fbf"]} dotColors={[INK, "#e8383f", "#2f4fbf"]}
        xDom={[0.475, 3.46]} yMax={20} yTicks={[0, 5, 10, 15, 20]} barSize={17}
        brackets={[
          { a: 1, b: 3, y: 19.6, d: 0.7, text: "NS" },
          { a: 1, b: 2, y: 16.7, d: 0.7, text: "***" },
        ]}
      />
    </div>
  )
}
